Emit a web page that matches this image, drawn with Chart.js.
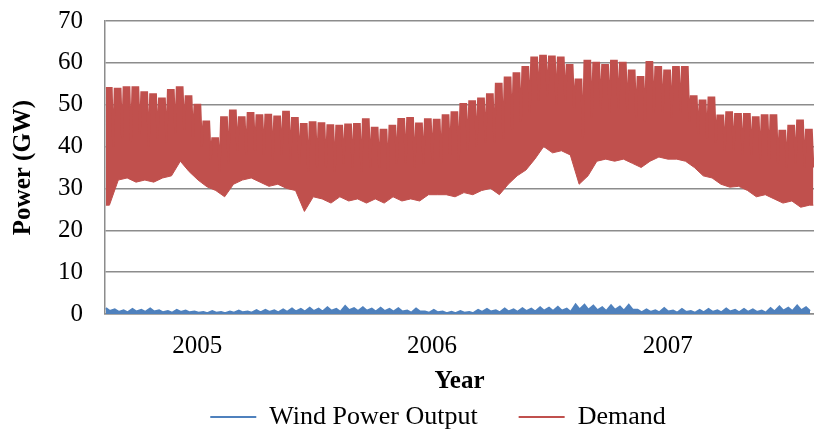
<!DOCTYPE html>
<html lang="en">
<head>
    <meta charset="UTF-8">
    <title>Wind Power Output and Demand</title>
    <script src="https://cdn.jsdelivr.net/npm/chart.js"></script>
    <style>
        body {
            margin: 0;
            background: #fff;
        }
        #wrap {
            width: 814px;
            height: 430px;
        }
    </style>
</head>
<body>
    <div id="wrap"><canvas id="powerChart"></canvas></div>
    <script>
        // Year labels and their position on the x axis (in "tooth" units, about 1.9 weeks each)
        const yearLabels = ['2005', '2006', '2007'];
        const yearTicks = [10.4, 36.9, 63.5];

        // Demand (GW): top of each tooth, bottom of the gap after it, lower envelope
        const demandPeak = [
            54, 53.8, 54.2, 54.2, 53, 52.5, 51.5, 53.5, 54.2, 52,
            50, 46, 42, 47, 48.6, 47, 48, 47.5, 47.6, 47.2,
            48.3, 46.8, 45.4, 45.8, 45.6, 45.1, 45, 45.3, 45.4, 46.5,
            44.5, 44, 45, 46.6, 46.8, 45.5, 46.5, 46.4, 47.5, 48.2,
            50.2, 50.8, 51.5, 52.5, 55, 56.5, 57.5, 59, 61.3, 61.7,
            61.5, 61.3, 59.5, 56, 60.5, 60, 59.5, 60.5, 60, 58.2,
            56.6, 60.2, 59, 58.2, 59, 59, 52, 51, 51.7, 47.4,
            48.2, 47.8, 47.8, 47, 47.5, 47.5, 43.8, 45, 46.2, 44
        ];
        const demandValley = [
            40, 42, 41, 43, 40, 42, 41, 43, 44, 42,
            40, 37, 34, 36, 39, 38, 39, 38, 37, 38,
            37, 36, 34, 35, 35, 34, 36, 35, 34, 35,
            35, 34, 36, 36, 35, 36, 37, 36, 38, 37,
            39, 40, 41, 41, 42, 44, 46, 48, 51, 52,
            50, 51, 49, 42, 47, 49, 48, 49, 48, 47,
            46, 48, 48, 47, 48, 46, 43, 42, 41, 39,
            39, 38, 38, 37, 37, 36, 35, 36, 35, 35
        ];
        const demandLow = [
            26, 32, 32.5, 31.5, 32, 31.5, 32.5, 33, 36.5, 34,
            32, 30.4, 29.5, 28, 31, 32, 32.5, 31.5, 30.5, 31,
            30, 29.5, 24.5, 28, 27.5, 26.5, 28, 27, 27.5, 26.5,
            27.5, 26.5, 28, 27, 27.5, 27, 28.5, 28.5, 28.5, 28,
            29, 28.5, 29.5, 30, 28.5, 31, 33, 34.4, 37, 40,
            38.5, 39, 38, 31, 33, 36.5, 37, 36.5, 37, 36,
            35, 36.5, 37.5, 37, 37, 36.5, 35, 33, 32.5, 31,
            30.3, 30.5, 29.5, 28, 28.5, 27.5, 26.5, 27, 25.5, 26
        ];

        // Wind power output (GW): top and bottom of each tooth
        const windHigh = [
            1.4, 1.1, 0.9, 1.2, 1.0, 1.3, 0.9, 0.7, 1.0, 0.8,
            0.6, 0.5, 0.7, 0.5, 0.6, 0.8, 0.6, 0.9, 1.0, 0.9,
            1.1, 1.3, 1.2, 1.5, 1.3, 1.6, 1.2, 1.9, 1.4, 1.6,
            1.3, 1.5, 1.2, 1.4, 0.8, 1.3, 0.6, 1.0, 0.6, 0.5,
            0.7, 0.5, 1.0, 1.2, 0.9, 1.3, 1.1, 1.4, 1.3, 1.6,
            1.5, 1.7, 1.3, 2.3, 2.2, 2.0, 1.6, 2.1, 1.8, 2.2,
            1.0, 1.1, 0.9, 1.4, 0.8, 1.2, 0.7, 1.0, 1.2, 0.9,
            1.3, 1.0, 1.2, 1.1, 0.8, 1.4, 1.8, 1.5, 2.0, 1.6
        ];
        const windLow = [
            0.7, 0.5, 0.4, 0.6, 0.5, 0.6, 0.4, 0.3, 0.5, 0.4,
            0.3, 0.2, 0.3, 0.2, 0.3, 0.4, 0.3, 0.4, 0.5, 0.4,
            0.5, 0.6, 0.6, 0.7, 0.6, 0.8, 0.5, 0.9, 0.7, 0.8,
            0.6, 0.7, 0.6, 0.6, 0.3, 0.6, 0.3, 0.4, 0.2, 0.2,
            0.3, 0.2, 0.5, 0.6, 0.4, 0.6, 0.5, 0.7, 0.6, 0.8,
            0.7, 0.8, 0.5, 1.1, 1.0, 0.9, 0.7, 1.0, 0.8, 1.0,
            0.4, 0.5, 0.4, 0.6, 0.3, 0.5, 0.3, 0.4, 0.5, 0.4,
            0.6, 0.4, 0.5, 0.5, 0.3, 0.6, 0.8, 0.7, 0.9, 0.7
        ];

        // Build the point lists: each tooth is a short flat top followed by a narrow gap
        const demandTop = [];
        demandPeak.forEach((p, i) => {
            demandTop.push({ x: i + 0.1, y: p });
            demandTop.push({ x: i + 0.75, y: p });
            demandTop.push({ x: i + 0.93, y: demandValley[i] });
        });
        const demandBottom = demandLow.map((v, i) => ({ x: i + 0.5, y: v }));
        demandBottom.unshift({ x: 0.1, y: demandLow[0] });
        demandBottom.push({ x: 79.93, y: demandLow[demandLow.length - 1] });

        const windLine = [];
        windHigh.forEach((h, i) => {
            windLine.push({ x: i + 0.1, y: h });
            windLine.push({ x: i + 0.55, y: windLow[i] });
        });

        const red = '#C0504D';
        const blue = '#4F81BD';
        const grey = '#8C8C8C';
        const serif = "'Liberation Serif', 'Times New Roman', serif";

        // legend sits under the plot a bit right of the page centre, like the original
        const legendShift = {
            id: 'legendShift',
            afterLayout(chart) {
                chart.legend.left = 62;
            }
        };

        const ctx = document.getElementById('powerChart').getContext('2d');
        new Chart(ctx, {
            type: 'line',
            data: {
                datasets: [
                    {
                        label: 'Wind Power Output',
                        data: windLine,
                        borderColor: blue,
                        backgroundColor: blue,
                        borderWidth: 2,
                        pointRadius: 0,
                        fill: 'origin'
                    },
                    {
                        label: 'Demand',
                        data: demandTop,
                        borderColor: red,
                        backgroundColor: red,
                        borderWidth: 2,
                        pointRadius: 0,
                        fill: '+1'
                    },
                    {
                        label: '',
                        data: demandBottom,
                        borderColor: red,
                        borderWidth: 1,
                        pointRadius: 0,
                        fill: false
                    }
                ]
            },
            plugins: [legendShift],
            options: {
                responsive: true,
                maintainAspectRatio: false,
                animation: false,
                layout: { padding: { top: 21, right: 0, left: 0, bottom: 0 } },
                plugins: {
                    tooltip: { enabled: false },
                    legend: {
                        position: 'bottom',
                        maxHeight: 67,
                        labels: {
                            filter: item => item.text !== '',
                            usePointStyle: true,
                            pointStyle: 'line',
                            pointStyleWidth: 46,
                            padding: 41,
                            color: '#000',
                            font: { family: serif, size: 26 }
                        }
                    }
                },
                scales: {
                    x: {
                        type: 'linear',
                        min: 0,
                        max: 80,
                        grid: { display: false, drawTicks: false },
                        border: { color: grey, width: 1.5 },
                        afterBuildTicks: scale => {
                            scale.ticks = yearTicks.map(v => ({ value: v }));
                        },
                        ticks: {
                            autoSkip: false,
                            maxRotation: 0,
                            padding: 17,
                            color: '#000',
                            font: { family: serif, size: 25 },
                            callback: (value, index) => yearLabels[index]
                        },
                        title: {
                            display: true,
                            text: 'Year',
                            color: '#000',
                            padding: { top: 0, bottom: -34 },
                            font: { family: serif, size: 25, weight: 'bold' }
                        },
                        afterFit: scale => { scale.height = 49; }
                    },
                    y: {
                        min: 0,
                        max: 70,
                        grid: { color: grey, lineWidth: 1.5, drawTicks: false },
                        border: { color: grey, width: 1.5 },
                        ticks: {
                            stepSize: 10,
                            padding: 22,
                            color: '#000',
                            font: { family: serif, size: 25 }
                        },
                        title: {
                            display: true,
                            text: 'Power (GW)',
                            color: '#000',
                            padding: { top: 9, bottom: 0 },
                            font: { family: serif, size: 25, weight: 'bold' }
                        },
                        afterFit: scale => {
                            scale.width = 105;
                            scale.paddingTop = 0;
                            scale.paddingBottom = 0;
                        }
                    }
                }
            }
        });
    </script>
</body>
</html>
